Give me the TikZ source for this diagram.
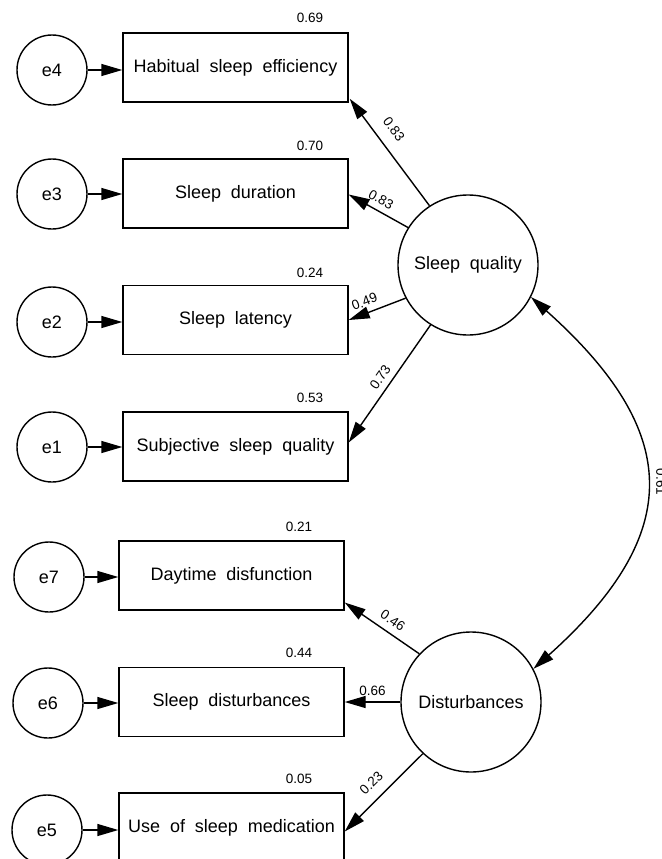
\documentclass[tikz,border=0pt]{standalone}
\usepackage{fontspec}
\setmainfont{Liberation Sans}
\usetikzlibrary{arrows.meta}
\newcommand\widespace{\spaceskip=0.55em\relax}

\begin{document}
\begin{tikzpicture}[x=1pt, y=-1pt,
    obs/.style={rectangle, draw, line width=1.4pt, minimum width=225pt, minimum height=69pt, font=\fontsize{18}{21}\selectfont\widespace},
    err/.style={circle, draw, line width=1.4pt, minimum size=70pt, inner sep=0pt, font=\fontsize{18}{21}\selectfont},
    fac/.style={circle, draw, line width=1.4pt, minimum size=140pt, inner sep=0pt, font=\fontsize{18}{21}\selectfont\widespace},
    arrow/.style={-{Triangle[length=21pt,width=12pt]}, line width=1.4pt},
    coef/.style={font=\fontsize{13.5}{15}\selectfont, inner sep=1pt}
]
\useasboundingbox (0,0) rectangle (661,859);

% latent factors
\node[fac] (sq) at (468,265) {Sleep quality};
\node[fac] (dis) at (471,702) {Disturbances};

% observed indicators
\node[obs] (hse) at (235.5,67.5) {Habitual sleep efficiency};
\node[obs] (sdu) at (235.5,193.5) {Sleep duration};
\node[obs] (sla) at (235.5,320) {Sleep latency};
\node[obs] (ssq) at (235.5,446.5) {Subjective sleep quality};
\node[obs] (daf) at (231.5,575.5) {Daytime disfunction};
\node[obs] (sdi) at (231.5,702) {Sleep disturbances};
\node[obs] (usm) at (231.5,827.5) {Use of sleep medication};

% error terms
\node[err] (e4) at (52,70) {e4};
\node[err] (e3) at (52,194) {e3};
\node[err] (e2) at (52,322) {e2};
\node[err] (e1) at (52,447) {e1};
\node[err] (e7) at (49,577) {e7};
\node[err] (e6) at (48,703) {e6};
\node[err] (e5) at (47,830) {e5};

% squared multiple correlations
\node[coef] (r4) at (310,18) {0.69};
\node[coef] (r3) at (310,146) {0.70};
\node[coef] (r2) at (310,273) {0.24};
\node[coef] (r1) at (310,398) {0.53};
\node[coef] (r7) at (299,527) {0.21};
\node[coef] (r6) at (299,653) {0.44};
\node[coef] (r5) at (299,779) {0.05};

\foreach \e/\b in {e4/hse, e3/sdu, e2/sla, e1/ssq, e7/daf, e6/sdi, e5/usm}
    \draw[arrow] (\e.east) -- (\e.east -| \b.west);

% loadings
\draw[arrow] (sq.123) -- node[coef, sloped, above=11pt, pos=0.62] {0.83} ([xshift=1pt,yshift=4pt]hse.south east);
\draw[arrow] (sq.148) -- node[coef, sloped, above=5pt, pos=0.55] {0.83} ([yshift=-1pt]sdu.east);
\draw[arrow] (sq.208) -- node[coef, sloped, above=5pt, pos=0.65] {0.49} (sla.east);
\draw[arrow] (sq.238) -- node[coef, sloped, above=5pt, pos=0.5] {0.73} ([yshift=4pt]ssq.east);
\draw[arrow] (dis.137) -- node[coef, sloped, above=6pt, pos=0.45] {0.46} ([yshift=-27pt]daf.east);
\draw[arrow] (dis.west) -- node[coef, above=5pt, pos=0.5] {0.66} (dis.west -| sdi.east);
\draw[arrow] (dis.227) -- node[coef, sloped, above=9pt, pos=0.52] {0.23} ([yshift=-4pt]usm.east);

% covariance
\draw[{Triangle[length=21pt,width=12pt]}-{Triangle[length=21pt,width=12pt]}, line width=1.4pt]
    (sq.-27) .. controls (682,432) and (685,533) .. (dis.28);
\node[coef, rotate=-90] (cov) at (661,482) {0.61};
\end{tikzpicture}
\end{document}
